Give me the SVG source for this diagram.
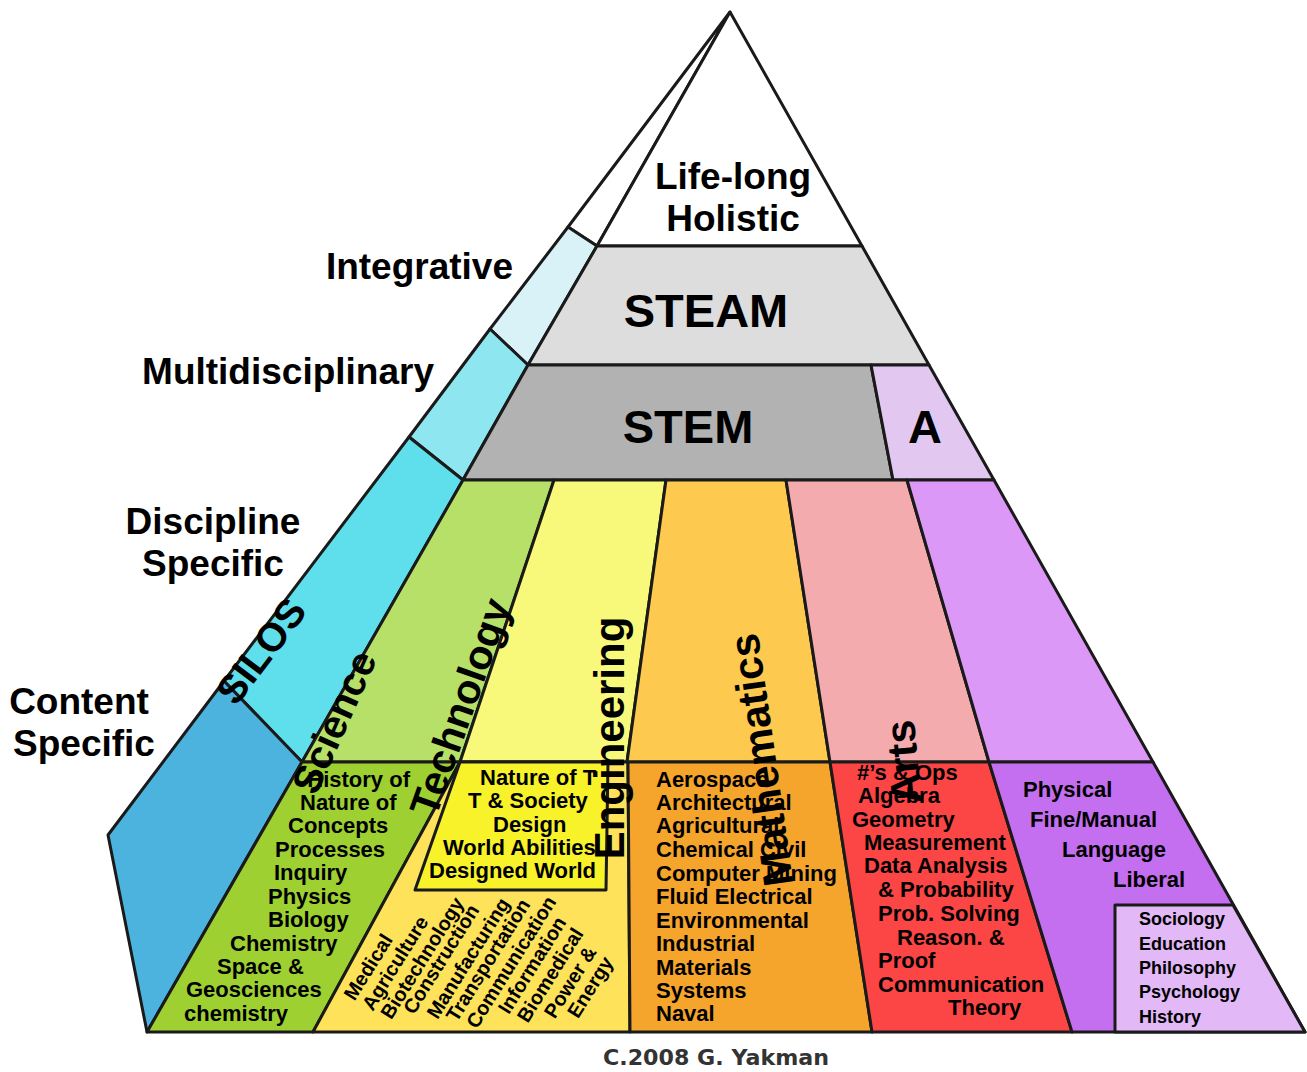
<svg xmlns="http://www.w3.org/2000/svg" width="1307" height="1072" viewBox="0 0 1307 1072">
<style>
.r{stroke:#1a1a1a;stroke-width:3;stroke-linejoin:round}
.t{font-family:"Liberation Sans",Arial,sans-serif;font-weight:bold;fill:#000}
.big{font-size:37px}
.huge{font-size:47px}
.rot{font-size:41px}
.l22{font-size:22px}
.l20{font-size:20px}
.l18{font-size:18px}
.mid{text-anchor:middle}
.end{text-anchor:end}
</style>
<rect width="1307" height="1072" fill="#ffffff"/>

<g id="strip">
  <polygon id="strip-tip" class="r" fill="#ffffff" points="730,12 568,227 597,246"/>
  <polygon id="integrative-cell" class="r" fill="#d8f2f8" points="568,227 597,246 528,365 490,329"/>
  <polygon id="multidisciplinary-cell" class="r" fill="#8ee6f0" points="490,329 528,365 463,480 409,437"/>
  <polygon id="discipline-cell" class="r" fill="#5fdfec" points="409,437 463,480 302,762 224,681"/>
  <polygon id="content-cell" class="r" fill="#4bb3de" points="224,681 302,762 147,1032 108,835"/>
</g>

<g id="life-long">
  <polygon class="r" fill="#ffffff" points="730,12 597,246 862,246"/>
  <text class="t big mid" x="733" y="189">Life-long</text>
  <text class="t big mid" x="733" y="231">Holistic</text>
</g>
<g id="steam">
  <polygon class="r" fill="#dddddd" points="597,246 862,246 929,365 528,365"/>
  <text class="t huge mid" x="706" y="327">STEAM</text>
</g>
<g id="stem">
  <polygon class="r" fill="#b2b2b2" points="528,365 871,365 893,480 463,480"/>
  <text class="t huge mid" x="688" y="443">STEM</text>
</g>
<g id="a-cell">
  <polygon class="r" fill="#e2c8f0" points="871,365 929,365 994,480 893,480"/>
  <text class="t huge mid" x="925" y="443">A</text>
</g>

<g id="science">
  <polygon class="r" fill="#b6e068" points="463,480 554,480 460,762 302,762"/>
  <polygon class="r" fill="#9fd032" points="302,762 460,762 313,1032 147,1032"/>
  <text class="t l22 end" x="410" y="787">History of</text>
  <text class="t l22" x="300" y="810">Nature of</text>
  <text class="t l22" x="288" y="833">Concepts</text>
  <text class="t l22" x="275" y="857">Processes</text>
  <text class="t l22" x="274" y="880">Inquiry</text>
  <text class="t l22" x="268" y="904">Physics</text>
  <text class="t l22" x="268" y="927">Biology</text>
  <text class="t l22" x="230" y="951">Chemistry</text>
  <text class="t l22" x="217" y="974">Space &amp;</text>
  <text class="t l22" x="186" y="997">Geosciences</text>
  <text class="t l22" x="184" y="1021">chemistry</text>
</g>

<g id="technology">
  <polygon class="r" fill="#f8f87a" points="554,480 666,480 627,762 460,762"/>
  <polygon class="r" fill="#fde25a" points="460,762 628,762 630,1032 313,1032"/>
  <polygon id="tech-box" class="r" fill="#f8f22a" points="460,762 608,762 606,890 415,890"/>
  <text class="t l22" x="480" y="785">Nature of T</text>
  <text class="t l22" x="468" y="808">T &amp; Society</text>
  <text class="t l22" x="493" y="832">Design</text>
  <text class="t l22" x="443" y="855">World Abilities</text>
  <text class="t l22" x="429" y="878">Designed World</text>
  <g class="t l20 mid">
    <text transform="translate(368,967) rotate(-58)" dy="0.35em">Medical</text>
    <text transform="translate(395,963) rotate(-58)" dy="0.35em">Agriculture</text>
    <text transform="translate(422,958) rotate(-58)" dy="0.35em">Biotechnology</text>
    <text transform="translate(441,959) rotate(-58)" dy="0.35em">Construction</text>
    <text transform="translate(468,958) rotate(-58)" dy="0.35em">Manufacturing</text>
    <text transform="translate(488,960) rotate(-58)" dy="0.35em">Transportation</text>
    <text transform="translate(511,962) rotate(-58)" dy="0.35em">Communication</text>
    <text transform="translate(532,965) rotate(-58)" dy="0.35em">Information</text>
    <text transform="translate(550,975) rotate(-58)" dy="0.35em">Biomedical</text>
    <text transform="translate(570,982) rotate(-58)" dy="0.35em">Power &amp;</text>
    <text transform="translate(590,987) rotate(-58)" dy="0.35em">Energy</text>
  </g>
</g>

<g id="engineering">
  <polygon class="r" fill="#fdc94e" points="666,480 786,480 830,762 627,762"/>
  <polygon class="r" fill="#f5a42c" points="628,762 830,762 872,1032 630,1032"/>
  <g class="t l22">
    <text x="656" y="787">Aerospace</text>
    <text x="656" y="810">Architectural</text>
    <text x="656" y="833">Agricultural</text>
    <text x="656" y="857">Chemical Civil</text>
    <text x="656" y="881">Computer Mining</text>
    <text x="656" y="904">Fluid Electrical</text>
    <text x="656" y="928">Environmental</text>
    <text x="656" y="951">Industrial</text>
    <text x="656" y="975">Materials</text>
    <text x="656" y="998">Systems</text>
    <text x="656" y="1021">Naval</text>
  </g>
</g>

<g id="mathematics">
  <polygon class="r" fill="#f4abae" points="786,480 907,480 989,762 830,762"/>
  <polygon class="r" fill="#fc4545" points="830,762 989,762 1072,1032 872,1032"/>
  <g class="t l22">
    <text x="857" y="780">#’s &amp; Ops</text>
    <text x="858" y="803">Algebra</text>
    <text x="852" y="827">Geometry</text>
    <text x="864" y="850">Measurement</text>
    <text x="864" y="873">Data Analysis</text>
    <text x="878" y="897">&amp; Probability</text>
    <text x="878" y="921">Prob. Solving</text>
    <text x="897" y="945">Reason. &amp;</text>
    <text x="878" y="968">Proof</text>
    <text x="878" y="992">Communication</text>
    <text x="948" y="1015">Theory</text>
  </g>
</g>

<g id="arts">
  <polygon class="r" fill="#dc98f6" points="907,480 994,480 1153,762 989,762"/>
  <polygon class="r" fill="#c46ef0" points="989,762 1153,762 1305,1032 1072,1032"/>
  <g class="t l22">
    <text x="1023" y="797">Physical</text>
    <text x="1030" y="827">Fine/Manual</text>
    <text x="1062" y="857">Language</text>
    <text x="1113" y="887">Liberal</text>
  </g>
</g>

<g id="humanities">
  <polygon class="r" fill="#e2b8f6" points="1115,905 1233,905 1305,1032 1115,1032"/>
  <g class="t l18">
    <text x="1139" y="925">Sociology</text>
    <text x="1139" y="950">Education</text>
    <text x="1139" y="974">Philosophy</text>
    <text x="1139" y="998">Psychology</text>
    <text x="1139" y="1023">History</text>
  </g>
</g>

<g id="side-labels" class="t big">
  <text x="513" y="279" class="end">Integrative</text>
  <text x="434" y="384" class="end">Multidisciplinary</text>
  <text x="213" y="534" class="mid">Discipline</text>
  <text x="213" y="576" class="mid">Specific</text>
  <text x="79" y="714" class="mid">Content</text>
  <text x="84" y="756" class="mid">Specific</text>
</g>

<g id="column-labels" class="t rot mid">
  <text transform="translate(261,651) rotate(-53)" dy="0.35em" style="font-size:40px">SILOS</text>
  <text transform="translate(334,722) rotate(-66)" dy="0.35em" style="font-size:40px">Science</text>
  <text transform="translate(460,707) rotate(-70.5)" dy="0.35em">Technology</text>
  <text transform="translate(609,738) rotate(-90)" dy="0.35em" style="font-size:42px">Engineering</text>
  <text transform="translate(761,760) rotate(-98)" dy="0.35em" style="font-size:42px">Mathematics</text>
  <text transform="translate(903,762) rotate(-95)" dy="0.35em" style="font-size:42px">Arts</text>
</g>

<text id="credit" x="716" y="1065" text-anchor="middle" textLength="226" lengthAdjust="spacingAndGlyphs" style="font-family:'DejaVu Sans',sans-serif;font-size:21px;font-weight:bold;fill:#333333">C.2008 G. Yakman</text>
</svg>
